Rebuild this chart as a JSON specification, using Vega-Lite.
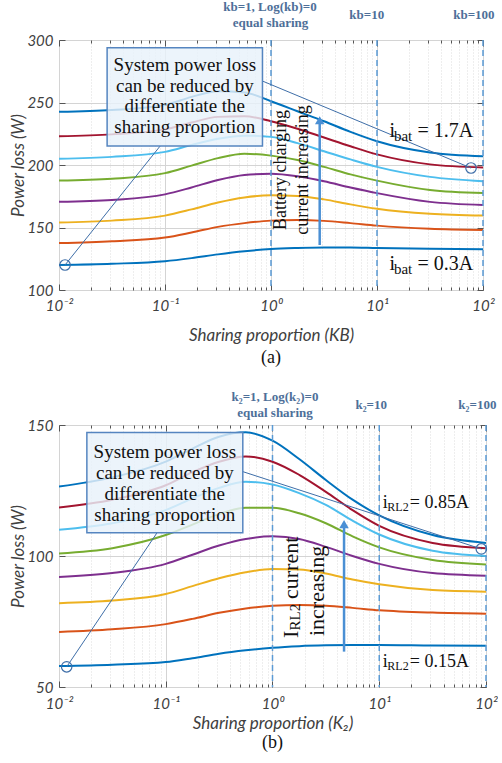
{
  "$schema": "https://vega.github.io/schema/vega-lite/v6.json",
  "autosize": {"type": "pad"},
  "padding": {"left": 9, "top": 0, "right": 0, "bottom": 0},
  "background": "white",
  "bounds": "flush",
  "spacing": 135,
  "config": {
    "view": {"stroke": "#606060", "strokeWidth": 1},
    "axis": {
      "labelFont": "Lato", "labelFontStyle": "italic", "labelFontSize": 15, "labelColor": "#404040",
      "titleFont": "Lato", "titleFontStyle": "italic", "titleFontWeight": "normal", "titleFontSize": 17, "titleColor": "#404040",
      "tickColor": "#555555", "domain": false
    }
  },
  "datasets": {
    "curvesA": [
      {"s":1,"k":0.01,"W":120},{"s":1,"k":0.0316,"W":121},{"s":1,"k":0.1,"W":123},{"s":1,"k":0.178,"W":125.5},{"s":1,"k":0.316,"W":128.5},{"s":1,"k":0.562,"W":131},{"s":1,"k":1,"W":132.8},{"s":1,"k":1.778,"W":133.6},{"s":1,"k":3.162,"W":134},{"s":1,"k":5.623,"W":134},{"s":1,"k":10,"W":133.6},{"s":1,"k":31.62,"W":133},{"s":1,"k":100,"W":132.5},
      {"s":2,"k":0.01,"W":137.5},{"s":2,"k":0.0316,"W":139},{"s":2,"k":0.1,"W":142},{"s":2,"k":0.178,"W":146},{"s":2,"k":0.316,"W":150.5},{"s":2,"k":0.562,"W":153.5},{"s":2,"k":1,"W":155.5},{"s":2,"k":1.778,"W":156},{"s":2,"k":3.162,"W":155.3},{"s":2,"k":5.623,"W":153.5},{"s":2,"k":10,"W":151.5},{"s":2,"k":31.62,"W":149},{"s":2,"k":100,"W":148},
      {"s":3,"k":0.01,"W":154},{"s":3,"k":0.0316,"W":155.5},{"s":3,"k":0.1,"W":159.5},{"s":3,"k":0.178,"W":164.5},{"s":3,"k":0.316,"W":170},{"s":3,"k":0.562,"W":174},{"s":3,"k":1,"W":175.8},{"s":3,"k":1.778,"W":175.2},{"s":3,"k":3.162,"W":172.5},{"s":3,"k":5.623,"W":168.5},{"s":3,"k":10,"W":165},{"s":3,"k":31.62,"W":161},{"s":3,"k":100,"W":159.5},
      {"s":4,"k":0.01,"W":170.5},{"s":4,"k":0.0316,"W":172},{"s":4,"k":0.1,"W":176.5},{"s":4,"k":0.178,"W":182},{"s":4,"k":0.316,"W":188},{"s":4,"k":0.562,"W":192},{"s":4,"k":1,"W":193},{"s":4,"k":1.778,"W":191},{"s":4,"k":3.162,"W":187},{"s":4,"k":5.623,"W":182},{"s":4,"k":10,"W":177.5},{"s":4,"k":31.62,"W":170.5},{"s":4,"k":100,"W":168},
      {"s":5,"k":0.01,"W":187.5},{"s":5,"k":0.0316,"W":189},{"s":5,"k":0.1,"W":193.5},{"s":5,"k":0.178,"W":199.5},{"s":5,"k":0.316,"W":205.5},{"s":5,"k":0.562,"W":209},{"s":5,"k":1,"W":207.5},{"s":5,"k":1.778,"W":204},{"s":5,"k":3.162,"W":198.5},{"s":5,"k":5.623,"W":192.5},{"s":5,"k":10,"W":187.5},{"s":5,"k":31.62,"W":180},{"s":5,"k":100,"W":177.5},
      {"s":6,"k":0.01,"W":205},{"s":6,"k":0.0316,"W":206.5},{"s":6,"k":0.1,"W":210.5},{"s":6,"k":0.178,"W":216},{"s":6,"k":0.316,"W":221},{"s":6,"k":0.562,"W":223.5},{"s":6,"k":1,"W":222.5},{"s":6,"k":1.778,"W":217.5},{"s":6,"k":3.162,"W":211},{"s":6,"k":5.623,"W":204.5},{"s":6,"k":10,"W":198.5},{"s":6,"k":31.62,"W":190.5},{"s":6,"k":100,"W":187},
      {"s":7,"k":0.01,"W":223},{"s":7,"k":0.0316,"W":224.5},{"s":7,"k":0.1,"W":228.5},{"s":7,"k":0.178,"W":234},{"s":7,"k":0.316,"W":238.5},{"s":7,"k":0.562,"W":239},{"s":7,"k":1,"W":235},{"s":7,"k":1.778,"W":229},{"s":7,"k":3.162,"W":222},{"s":7,"k":5.623,"W":215},{"s":7,"k":10,"W":208.5},{"s":7,"k":31.62,"W":200.5},{"s":7,"k":100,"W":198},
      {"s":8,"k":0.01,"W":242.5},{"s":8,"k":0.0316,"W":244},{"s":8,"k":0.1,"W":248},{"s":8,"k":0.178,"W":254.5},{"s":8,"k":0.316,"W":259},{"s":8,"k":0.562,"W":258},{"s":8,"k":1,"W":251},{"s":8,"k":1.778,"W":243},{"s":8,"k":3.162,"W":235},{"s":8,"k":5.623,"W":226.5},{"s":8,"k":10,"W":219},{"s":8,"k":31.62,"W":210},{"s":8,"k":100,"W":207}
    ],
    "curvesB": [
      {"s":1,"k":0.01,"W":58},{"s":1,"k":0.0316,"W":58.5},{"s":1,"k":0.1,"W":59.5},{"s":1,"k":0.178,"W":61},{"s":1,"k":0.316,"W":62.7},{"s":1,"k":0.562,"W":64},{"s":1,"k":1,"W":65},{"s":1,"k":1.778,"W":65.6},{"s":1,"k":3.162,"W":65.9},{"s":1,"k":5.623,"W":66},{"s":1,"k":10,"W":66},{"s":1,"k":31.62,"W":65.8},{"s":1,"k":100,"W":65.7},
      {"s":2,"k":0.01,"W":71},{"s":2,"k":0.0316,"W":72},{"s":2,"k":0.1,"W":74},{"s":2,"k":0.178,"W":76},{"s":2,"k":0.316,"W":78.3},{"s":2,"k":0.562,"W":80},{"s":2,"k":1,"W":81},{"s":2,"k":1.778,"W":81.3},{"s":2,"k":3.162,"W":81},{"s":2,"k":5.623,"W":80.2},{"s":2,"k":10,"W":79.3},{"s":2,"k":31.62,"W":78.4},{"s":2,"k":100,"W":78},
      {"s":3,"k":0.01,"W":82},{"s":3,"k":0.0316,"W":83},{"s":3,"k":0.1,"W":85.5},{"s":3,"k":0.178,"W":88.5},{"s":3,"k":0.316,"W":91.5},{"s":3,"k":0.562,"W":93.8},{"s":3,"k":1,"W":95},{"s":3,"k":1.778,"W":94.8},{"s":3,"k":3.162,"W":93.3},{"s":3,"k":5.623,"W":91},{"s":3,"k":10,"W":89.2},{"s":3,"k":31.62,"W":87},{"s":3,"k":100,"W":86.4},
      {"s":4,"k":0.01,"W":92},{"s":4,"k":0.0316,"W":93.5},{"s":4,"k":0.1,"W":97},{"s":4,"k":0.178,"W":100.5},{"s":4,"k":0.316,"W":104},{"s":4,"k":0.562,"W":106.5},{"s":4,"k":1,"W":107.5},{"s":4,"k":1.778,"W":106.5},{"s":4,"k":3.162,"W":103.5},{"s":4,"k":5.623,"W":100},{"s":4,"k":10,"W":97},{"s":4,"k":31.62,"W":93.5},{"s":4,"k":100,"W":92.5},
      {"s":5,"k":0.01,"W":101},{"s":5,"k":0.0316,"W":103},{"s":5,"k":0.1,"W":108},{"s":5,"k":0.178,"W":112},{"s":5,"k":0.316,"W":116},{"s":5,"k":0.562,"W":118.4},{"s":5,"k":1,"W":118.4},{"s":5,"k":1.778,"W":116.3},{"s":5,"k":3.162,"W":112.5},{"s":5,"k":5.623,"W":107.5},{"s":5,"k":10,"W":103.3},{"s":5,"k":31.62,"W":98.5},{"s":5,"k":100,"W":96.8},
      {"s":6,"k":0.01,"W":110},{"s":6,"k":0.0316,"W":112.5},{"s":6,"k":0.1,"W":117.5},{"s":6,"k":0.178,"W":122},{"s":6,"k":0.316,"W":126},{"s":6,"k":0.562,"W":128.3},{"s":6,"k":1,"W":127.3},{"s":6,"k":1.778,"W":124},{"s":6,"k":3.162,"W":119.5},{"s":6,"k":5.623,"W":113.5},{"s":6,"k":10,"W":108.2},{"s":6,"k":31.62,"W":102},{"s":6,"k":100,"W":100},
      {"s":7,"k":0.01,"W":118.5},{"s":7,"k":0.0316,"W":121.5},{"s":7,"k":0.1,"W":127},{"s":7,"k":0.178,"W":132},{"s":7,"k":0.316,"W":136},{"s":7,"k":0.562,"W":138},{"s":7,"k":1,"W":136},{"s":7,"k":1.778,"W":131},{"s":7,"k":3.162,"W":124.5},{"s":7,"k":5.623,"W":117.5},{"s":7,"k":10,"W":111.5},{"s":7,"k":31.62,"W":105},{"s":7,"k":100,"W":103},
      {"s":8,"k":0.01,"W":126.5},{"s":8,"k":0.0316,"W":130},{"s":8,"k":0.1,"W":136},{"s":8,"k":0.178,"W":141},{"s":8,"k":0.316,"W":145.5},{"s":8,"k":0.562,"W":147.2},{"s":8,"k":1,"W":144},{"s":8,"k":1.778,"W":137},{"s":8,"k":3.162,"W":129},{"s":8,"k":5.623,"W":121.5},{"s":8,"k":10,"W":115.5},{"s":8,"k":31.62,"W":108},{"s":8,"k":100,"W":105}
    ]
  },
  "vconcat": [
    {
      "width": 424, "height": 250,
      "title": {"text": "(a)", "orient": "bottom", "font": "Liberation Serif", "fontSize": 18, "fontWeight": "normal", "fontStyle": "normal", "color": "#111111", "offset": 6},
      "resolve": {"axis": {"x": "independent", "y": "independent"}},
      "layer": [
        {
          "data": {"name": "curvesA"},
          "mark": {"type": "line", "strokeWidth": 2, "interpolate": "monotone", "clip": true},
          "encoding": {
            "x": {"field": "k", "type": "quantitative", "scale": {"type": "log", "domain": [0.01, 100], "nice": false},
              "axis": {"orient": "bottom", "title": "Sharing proportion (KB)", "titlePadding": 11,
                "values": [0.01,0.02,0.03,0.04,0.05,0.06,0.07,0.08,0.09,0.1,0.2,0.3,0.4,0.5,0.6,0.7,0.8,0.9,1,2,3,4,5,6,7,8,9,10,20,30,40,50,60,70,80,90,100],
                "labelExpr": "datum.value==0.01?'10⁻²':datum.value==0.1?'10⁻¹':datum.value==1?'10⁰':datum.value==10?'10¹':datum.value==100?'10²':''",
                "labelOverlap": false, "labelFlush": false, "labelPadding": 14,
                "tickSize": {"condition": {"test": "abs(log(datum.value)/LN10 - round(log(datum.value)/LN10)) < 0.001", "value": -6}, "value": -3},
                "grid": true,
                "gridColor": {"condition": {"test": "abs(log(datum.value)/LN10 - round(log(datum.value)/LN10)) < 0.001", "value": "#d4d4d4"}, "value": "#dddddd"},
                "gridDash": {"condition": {"test": "abs(log(datum.value)/LN10 - round(log(datum.value)/LN10)) < 0.001", "value": []}, "value": [1, 2]}}},
            "y": {"field": "W", "type": "quantitative", "scale": {"domain": [100, 300], "nice": false, "zero": false},
              "axis": {"orient": "left", "title": "Power loss (W)", "values": [100, 150, 200, 250, 300], "tickSize": -6, "labelPadding": 12, "titlePadding": -1, "grid": true, "gridColor": "#d4d4d4"}},
            "color": {"field": "s", "type": "ordinal", "legend": null,
              "scale": {"domain": [1,2,3,4,5,6,7,8], "range": ["#0072BD","#D95319","#EDB120","#7E2F8E","#77AC30","#4DBEEE","#A2142F","#0072BD"]}}
          }
        },
        {
          "data": {"values": [{"k": 1}, {"k": 10}, {"k": 100}]},
          "mark": {"type": "rule", "color": "#5b9bd5", "strokeDash": [6, 4], "strokeWidth": 1.5},
          "encoding": {
            "x": {"field": "k", "type": "quantitative",
              "axis": {"orient": "top", "title": null, "labels": false, "grid": false,
                "values": [0.01,0.02,0.03,0.04,0.05,0.06,0.07,0.08,0.09,0.1,0.2,0.3,0.4,0.5,0.6,0.7,0.8,0.9,1,2,3,4,5,6,7,8,9,10,20,30,40,50,60,70,80,90,100],
                "tickSize": {"condition": {"test": "abs(log(datum.value)/LN10 - round(log(datum.value)/LN10)) < 0.001", "value": -6}, "value": -3}}}
          }
        },
        {
          "data": {"values": [{"k1": 0.0114, "W1": 120, "k2": 0.09, "W2": 215.2}, {"k1": 0.84, "W1": 267, "k2": 77.1, "W2": 197.6}]},
          "mark": {"type": "rule", "color": "#3e6ea8", "strokeWidth": 1},
          "encoding": {
            "x": {"field": "k1", "type": "quantitative", "axis": null},
            "x2": {"field": "k2"},
            "y": {"field": "W1", "type": "quantitative",
              "axis": {"orient": "right", "title": null, "labels": false, "grid": false, "values": [100, 150, 200, 250, 300], "tickSize": -6}},
            "y2": {"field": "W2"}
          }
        },
        {
          "data": {"values": [{"k": 0.0114, "W": 120}, {"k": 77.1, "W": 197.6}]},
          "mark": {"type": "point", "shape": "circle", "filled": false, "size": 110, "stroke": "#3e6ea8", "strokeWidth": 1.2, "opacity": 1},
          "encoding": {"x": {"field": "k", "type": "quantitative", "axis": null}, "y": {"field": "W", "type": "quantitative", "axis": null}}
        },
        {
          "data": {"values": [{"k1": 0.02844, "k2": 0.831, "W1": 293.8, "W2": 215.2}]},
          "mark": {"type": "rect", "fill": "#e8f1fa", "fillOpacity": 0.82, "stroke": "#5585c0", "strokeWidth": 1.5},
          "encoding": {"x": {"field": "k1", "type": "quantitative", "axis": null}, "x2": {"field": "k2"}, "y": {"field": "W1", "type": "quantitative", "axis": null}, "y2": {"field": "W2"}}
        },
        {
          "data": {"values": [{"k": 0.1538, "W": 280}]},
          "mark": {"type": "text", "text": ["System power loss", "can be reduced by", "differentiate the", "sharing proportion"], "font": "Liberation Serif", "fontSize": 19, "lineHeight": 20.5, "align": "center", "baseline": "middle", "color": "#111111"},
          "encoding": {"x": {"field": "k", "type": "quantitative", "axis": null}, "y": {"field": "W", "type": "quantitative", "axis": null}}
        },
        {
          "data": {"values": [{"k": 2.88, "W1": 136, "W2": 234}]},
          "mark": {"type": "rule", "color": "#4a8fd4", "strokeWidth": 2.5},
          "encoding": {"x": {"field": "k", "type": "quantitative", "axis": null}, "y": {"field": "W1", "type": "quantitative", "axis": null}, "y2": {"field": "W2"}}
        },
        {
          "data": {"values": [{"k": 2.88, "W": 235.8}]},
          "mark": {"type": "point", "shape": "triangle-up", "filled": true, "size": 90, "color": "#4a8fd4", "opacity": 1},
          "encoding": {"x": {"field": "k", "type": "quantitative", "axis": null}, "y": {"field": "W", "type": "quantitative", "axis": null}}
        },
        {
          "data": {"values": [{"k": 1.23, "W": 196}]},
          "mark": {"type": "text", "text": ["Battery charging", "current increasing"], "angle": 270, "font": "Liberation Serif", "fontSize": 18, "lineHeight": 22, "align": "center", "baseline": "middle", "color": "#111111"},
          "encoding": {"x": {"field": "k", "type": "quantitative", "axis": null}, "y": {"field": "W", "type": "quantitative", "axis": null}}
        },
        {
          "data": {"values": [{"k": 13.1, "W": 222.2, "v": "= 1.7A"}, {"k": 13.1, "W": 116, "v": "= 0.3A"}]},
          "encoding": {"x": {"field": "k", "type": "quantitative", "axis": null}, "y": {"field": "W", "type": "quantitative", "axis": null}},
          "layer": [
            {"mark": {"type": "text", "text": "i", "font": "Liberation Serif", "fontSize": 20, "align": "left", "baseline": "alphabetic", "color": "#111111"}},
            {"mark": {"type": "text", "text": "bat", "font": "Liberation Serif", "fontSize": 15, "align": "left", "baseline": "alphabetic", "dx": 4.5, "dy": 4, "color": "#111111"}},
            {"mark": {"type": "text", "font": "Liberation Serif", "fontSize": 20, "align": "left", "baseline": "alphabetic", "dx": 28, "color": "#111111"}, "encoding": {"text": {"field": "v"}}}
          ]
        },
        {
          "data": {"values": [{"t": "kb=1, Log(kb)=0", "k": 0.978, "W": 326.4}, {"t": "equal sharing", "k": 0.99, "W": 313.6}, {"t": "kb=10", "k": 8.0, "W": 320}, {"t": "kb=100", "k": 82, "W": 320}]},
          "mark": {"type": "text", "font": "Liberation Serif", "fontSize": 13, "fontWeight": "bold", "align": "center", "baseline": "middle", "color": "#4e6f99"},
          "encoding": {"x": {"field": "k", "type": "quantitative", "axis": null}, "y": {"field": "W", "type": "quantitative", "axis": null}, "text": {"field": "t"}}
        }
      ]
    },
    {
      "width": 427, "height": 262,
      "title": {"text": "(b)", "orient": "bottom", "font": "Liberation Serif", "fontSize": 18, "fontWeight": "normal", "fontStyle": "normal", "color": "#111111", "offset": 3},
      "resolve": {"axis": {"x": "independent", "y": "independent"}},
      "layer": [
        {
          "data": {"name": "curvesB"},
          "mark": {"type": "line", "strokeWidth": 2, "interpolate": "monotone", "clip": true},
          "encoding": {
            "x": {"field": "k", "type": "quantitative", "scale": {"type": "log", "domain": [0.01, 100], "nice": false},
              "axis": {"orient": "bottom", "title": "Sharing proportion (K₂)", "titlePadding": 1,
                "values": [0.01,0.02,0.03,0.04,0.05,0.06,0.07,0.08,0.09,0.1,0.2,0.3,0.4,0.5,0.6,0.7,0.8,0.9,1,2,3,4,5,6,7,8,9,10,20,30,40,50,60,70,80,90,100],
                "labelExpr": "datum.value==0.01?'10⁻²':datum.value==0.1?'10⁻¹':datum.value==1?'10⁰':datum.value==10?'10¹':datum.value==100?'10²':''",
                "labelOverlap": false, "labelFlush": false, "labelPadding": 15,
                "tickSize": {"condition": {"test": "abs(log(datum.value)/LN10 - round(log(datum.value)/LN10)) < 0.001", "value": -6}, "value": -3},
                "grid": true,
                "gridColor": {"condition": {"test": "abs(log(datum.value)/LN10 - round(log(datum.value)/LN10)) < 0.001", "value": "#d4d4d4"}, "value": "#dddddd"},
                "gridDash": {"condition": {"test": "abs(log(datum.value)/LN10 - round(log(datum.value)/LN10)) < 0.001", "value": []}, "value": [1, 2]}}},
            "y": {"field": "W", "type": "quantitative", "scale": {"domain": [50, 150], "nice": false, "zero": false},
              "axis": {"orient": "left", "title": "Power loss (W)", "values": [50, 100, 150], "tickSize": -6, "labelPadding": 12, "titlePadding": -1, "grid": true, "gridColor": "#d4d4d4"}},
            "color": {"field": "s", "type": "ordinal", "legend": null,
              "scale": {"domain": [1,2,3,4,5,6,7,8], "range": ["#0072BD","#D95319","#EDB120","#7E2F8E","#77AC30","#4DBEEE","#A2142F","#0072BD"]}}
          }
        },
        {
          "data": {"values": [{"k": 1}, {"k": 10}, {"k": 100}]},
          "mark": {"type": "rule", "color": "#5b9bd5", "strokeDash": [6, 4], "strokeWidth": 1.5},
          "encoding": {
            "x": {"field": "k", "type": "quantitative",
              "axis": {"orient": "top", "title": null, "labels": false, "grid": false,
                "values": [0.01,0.02,0.03,0.04,0.05,0.06,0.07,0.08,0.09,0.1,0.2,0.3,0.4,0.5,0.6,0.7,0.8,0.9,1,2,3,4,5,6,7,8,9,10,20,30,40,50,60,70,80,90,100],
                "tickSize": {"condition": {"test": "abs(log(datum.value)/LN10 - round(log(datum.value)/LN10)) < 0.001", "value": -6}, "value": -3}}}
          }
        },
        {
          "data": {"values": [{"k1": 0.0118, "W1": 57.7, "k2": 0.083, "W2": 108.9}, {"k1": 0.527, "W1": 132.2, "k2": 90.4, "W2": 102.7}]},
          "mark": {"type": "rule", "color": "#3e6ea8", "strokeWidth": 1},
          "encoding": {
            "x": {"field": "k1", "type": "quantitative", "axis": null},
            "x2": {"field": "k2"},
            "y": {"field": "W1", "type": "quantitative",
              "axis": {"orient": "right", "title": null, "labels": false, "grid": false, "values": [50, 100, 150], "tickSize": -6}},
            "y2": {"field": "W2"}
          }
        },
        {
          "data": {"values": [{"k": 0.0118, "W": 57.7}, {"k": 90.4, "W": 102.7}]},
          "mark": {"type": "point", "shape": "circle", "filled": false, "size": 110, "stroke": "#3e6ea8", "strokeWidth": 1.2, "opacity": 1},
          "encoding": {"x": {"field": "k", "type": "quantitative", "axis": null}, "y": {"field": "W", "type": "quantitative", "axis": null}}
        },
        {
          "data": {"values": [{"k1": 0.01824, "k2": 0.527, "W1": 147.1, "W2": 108.9}]},
          "mark": {"type": "rect", "fill": "#e8f1fa", "fillOpacity": 0.82, "stroke": "#5585c0", "strokeWidth": 1.5},
          "encoding": {"x": {"field": "k1", "type": "quantitative", "axis": null}, "x2": {"field": "k2"}, "y": {"field": "W1", "type": "quantitative", "axis": null}, "y2": {"field": "W2"}}
        },
        {
          "data": {"values": [{"k": 0.098, "W": 139.8}]},
          "mark": {"type": "text", "text": ["System power loss", "can be reduced by", "differentiate the", "sharing proportion"], "font": "Liberation Serif", "fontSize": 19, "lineHeight": 21, "align": "center", "baseline": "middle", "color": "#111111"},
          "encoding": {"x": {"field": "k", "type": "quantitative", "axis": null}, "y": {"field": "W", "type": "quantitative", "axis": null}}
        },
        {
          "data": {"values": [{"k": 4.68, "W1": 63.5, "W2": 111}]},
          "mark": {"type": "rule", "color": "#4a8fd4", "strokeWidth": 2.5},
          "encoding": {"x": {"field": "k", "type": "quantitative", "axis": null}, "y": {"field": "W1", "type": "quantitative", "axis": null}, "y2": {"field": "W2"}}
        },
        {
          "data": {"values": [{"k": 4.68, "W": 112.2}]},
          "mark": {"type": "point", "shape": "triangle-up", "filled": true, "size": 90, "color": "#4a8fd4", "opacity": 1},
          "encoding": {"x": {"field": "k", "type": "quantitative", "axis": null}, "y": {"field": "W", "type": "quantitative", "axis": null}}
        },
        {
          "data": {"values": [{"k": 1.5, "W": 68.7}]},
          "encoding": {"x": {"field": "k", "type": "quantitative", "axis": null}, "y": {"field": "W", "type": "quantitative", "axis": null}},
          "layer": [
            {"mark": {"type": "text", "text": "I", "angle": 270, "font": "Liberation Serif", "fontSize": 22, "align": "left", "baseline": "middle", "color": "#111111"}},
            {"mark": {"type": "text", "text": "RL2", "angle": 270, "font": "Liberation Serif", "fontSize": 15, "align": "left", "baseline": "middle", "dx": 7.5, "dy": 4, "color": "#111111"}},
            {"mark": {"type": "text", "text": "current", "angle": 270, "font": "Liberation Serif", "fontSize": 22, "align": "left", "baseline": "middle", "dx": 39, "color": "#111111"}}
          ]
        },
        {
          "data": {"values": [{"k": 2.6, "W": 86.7}]},
          "mark": {"type": "text", "text": "increasing", "angle": 270, "font": "Liberation Serif", "fontSize": 22, "align": "center", "baseline": "middle", "color": "#111111"},
          "encoding": {"x": {"field": "k", "type": "quantitative", "axis": null}, "y": {"field": "W", "type": "quantitative", "axis": null}}
        },
        {
          "data": {"values": [{"k": 10.8, "W": 118.2, "v": "= 0.85A"}, {"k": 10.8, "W": 57.75, "v": "= 0.15A"}]},
          "encoding": {"x": {"field": "k", "type": "quantitative", "axis": null}, "y": {"field": "W", "type": "quantitative", "axis": null}},
          "layer": [
            {"mark": {"type": "text", "text": "i", "font": "Liberation Serif", "fontSize": 18, "align": "left", "baseline": "alphabetic", "color": "#111111"}},
            {"mark": {"type": "text", "text": "RL2", "font": "Liberation Serif", "fontSize": 12, "align": "left", "baseline": "alphabetic", "dx": 4.5, "dy": 3, "color": "#111111"}},
            {"mark": {"type": "text", "font": "Liberation Serif", "fontSize": 18, "align": "left", "baseline": "alphabetic", "dx": 27, "color": "#111111"}, "encoding": {"text": {"field": "v"}}}
          ]
        },
        {
          "data": {"values": [{"t": "k₂=1, Log(k₂)=0", "k": 1.055, "W": 160.7}, {"t": "equal sharing", "k": 1.055, "W": 154.6}, {"t": "k₂=10", "k": 8.41, "W": 157.6}, {"t": "k₂=100", "k": 83, "W": 157.6}]},
          "mark": {"type": "text", "font": "Liberation Serif", "fontSize": 13, "fontWeight": "bold", "align": "center", "baseline": "middle", "color": "#4e6f99"},
          "encoding": {"x": {"field": "k", "type": "quantitative", "axis": null}, "y": {"field": "W", "type": "quantitative", "axis": null}, "text": {"field": "t"}}
        }
      ]
    }
  ]
}
